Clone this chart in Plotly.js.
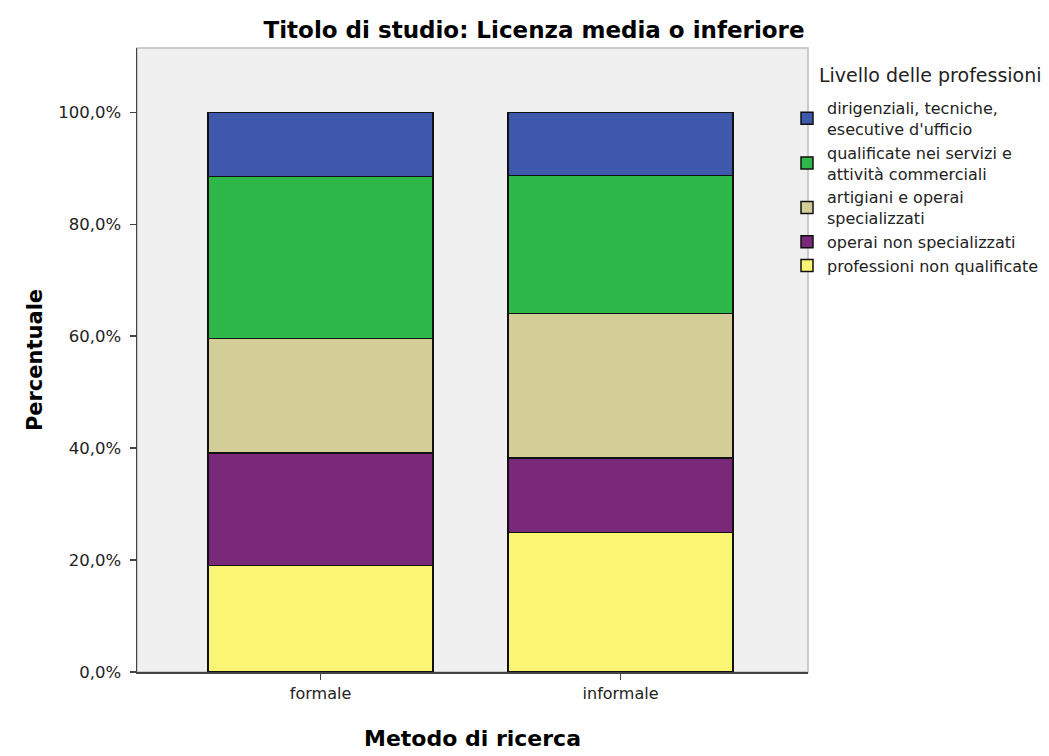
<!DOCTYPE html>
<html>
<head>
<meta charset="utf-8">
<script src="https://cdn.plot.ly/plotly-3.0.1.min.js"></script>
<style>html,body{margin:0;padding:0;background:#fff;}#chart{width:1049px;height:756px;}</style>
</head>
<body>
<div id="chart"></div>
<script>
var categories = ["formale", "informale"];
var seriesNames = [
  "professioni non qualificate",
  "operai non specializzati",
  "artigiani e operai<br>specializzati",
  "qualificate nei servizi e<br>attività commerciali",
  "dirigenziali, tecniche,<br>esecutive d'ufficio"
];
var legendTitle = "Livello delle professioni";
var profNonQualificate = [19.0, 24.9];
var operaiNonSpec = [20.1, 13.3];
var artigiani = [20.5, 25.9];
var qualificateServizi = [28.9, 24.6];
var dirigenziali = [11.5, 11.3];
var seriesColors = ["#faf572", "#7a287a", "#d3ce98", "#2fb84a", "#3e59ab"];
var yTickVals = [0, 20, 40, 60, 80, 100];
var yTickText = ["0,0%", "20,0%", "40,0%", "60,0%", "80,0%", "100,0%"];

var seriesValues = [profNonQualificate, operaiNonSpec, artigiani, qualificateServizi, dirigenziali];
var traces = seriesValues.map(function (vals, i) {
  return {
    type: "bar",
    name: seriesNames[i],
    x: categories,
    y: vals,
    width: 0.75,
    marker: {color: seriesColors[i], line: {color: "#111", width: 1.5}},
    hoverinfo: "x+y+name"
  };
});

var font = "DejaVu Sans, Arial, sans-serif";
var layout = {
  width: 1049,
  height: 756,
  margin: {l: 137, r: 241, t: 48, b: 84, autoexpand: false},
  paper_bgcolor: "#ffffff",
  plot_bgcolor: "#f0f0f0",
  barmode: "stack",
  showlegend: true,
  title: {
    text: "Titolo di studio: Licenza media o inferiore",
    font: {family: font, size: 23, color: "#000", weight: "bold"},
    x: 0.5917, xanchor: "center", xref: "paper",
    y: 1, yref: "paper", yanchor: "bottom", pad: {b: 10}
  },
  xaxis: {
    type: "category",
    range: [-0.612, 1.625],
    showgrid: false,
    zeroline: false,
    showline: true, linecolor: "#444", linewidth: 1.5,
    ticks: "outside", ticklen: 6, tickcolor: "#444", tickwidth: 1.5,
    tickfont: {family: font, size: 16, color: "#222"},
    title: {text: "Metodo di ricerca", font: {family: font, size: 22, color: "#000", weight: "bold"}, standoff: 29}
  },
  yaxis: {
    range: [0, 111.5],
    tickvals: yTickVals,
    ticktext: yTickText,
    showgrid: false,
    zeroline: false,
    showline: true, linecolor: "#444", linewidth: 1.5,
    ticks: "outside", ticklen: 6, tickcolor: "#444", tickwidth: 1.5,
    ticklabelstandoff: 5,
    tickfont: {family: font, size: 16.5, color: "#222"},
    title: {text: "Percentuale", font: {family: font, size: 21, color: "#000", weight: "bold"}, standoff: 10}
  },
  legend: {
    x: 0.9687, xanchor: "left",
    y: 0.9311, yanchor: "top",
    traceorder: "reversed",
    bgcolor: "rgba(0,0,0,0)",
    font: {family: font, size: 16, color: "#222"},
    itemclick: false
  },
  annotations: [{
    text: legendTitle, xref: "paper", yref: "paper",
    x: 1.0134, xanchor: "left", y: 0.9567, yanchor: "middle",
    showarrow: false, font: {family: font, size: 19, color: "#222"}
  }],
  shapes: [{
    type: "rect", xref: "paper", yref: "paper", x0: 0, x1: 1, y0: 0, y1: 1,
    line: {color: "#bdbdbd", width: 1.5}, fillcolor: "rgba(0,0,0,0)", layer: "below"
  }]
};

Plotly.newPlot("chart", traces, layout, {displayModeBar: false, staticPlot: true});
</script>
</body>
</html>
